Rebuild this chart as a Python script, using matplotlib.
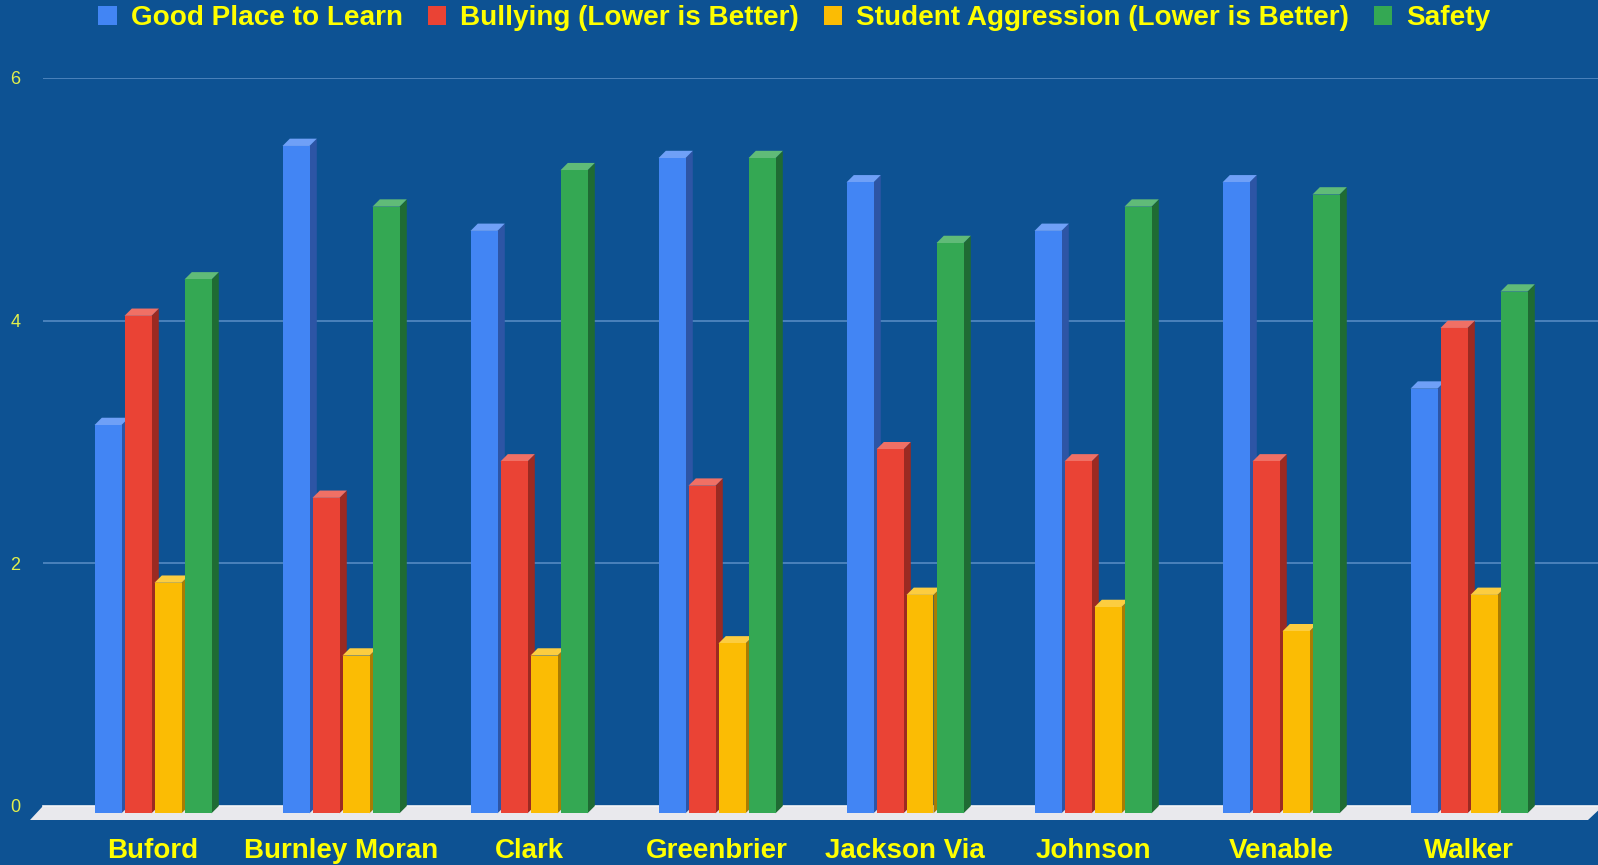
import numpy as np
import matplotlib
matplotlib.use('Agg')
import matplotlib.pyplot as plt
from matplotlib.patches import Polygon, Patch

# data
schools = ['Buford', 'Burnley Moran', 'Clark', 'Greenbrier', 'Jackson Via', 'Johnson', 'Venable', 'Walker']
good_place = [3.2, 5.5, 4.8, 5.4, 5.2, 4.8, 5.2, 3.5]
bullying = [4.1, 2.6, 2.9, 2.7, 3.0, 2.9, 2.9, 4.0]
aggression = [1.9, 1.3, 1.3, 1.4, 1.8, 1.7, 1.5, 1.8]
safety = [4.4, 5.0, 5.3, 5.4, 4.7, 5.0, 5.1, 4.3]
series_names = ['Good Place to Learn', 'Bullying (Lower is Better)',
                'Student Aggression (Lower is Better)', 'Safety']
yticks = [0, 2, 4, 6]

# front / side / top colours for the fake 3d bars
front = ['#4285f4', '#ea4335', '#fbbc04', '#34a853']
side = ['#2d55a5', '#9b2a22', '#a87c03', '#1f6b33']
top = ['#6fa0f7', '#f07065', '#fccd40', '#60bb78']

bg = '#0d5293'
yellow = '#ffff00'

W, H = 1598, 865
fig = plt.figure(figsize=(W / 100, H / 100), dpi=100, facecolor=bg)

# axes box in pixels: left 43, right edge of figure, value 0 at y=806, value 6 at y=78
ax = fig.add_axes([43 / W, (H - 806) / H, (W - 43) / W, (806 - 78) / H])
ax.set_facecolor(bg)
px_x = 188.0            # pixels per category
px_y = (806 - 78) / 6.0 # pixels per unit
xmin = -(153 - 43) / px_x
ax.set_xlim(xmin, xmin + (W - 43) / px_x)
ax.set_ylim(0, 6)
for s in ax.spines.values():
    s.set_visible(False)

# gridlines
for v in yticks[1:]:
    ax.axhline(v, color='#4f86bf', lw=1.3, zorder=1)

# floor slab
fd = 14 / px_y
fl = [(xmin - 13 / px_x, -fd), (xmin + 1545 / px_x, -fd),
      (xmin + 1560 / px_x, 0), (xmin, 0)]
ax.add_patch(Polygon(fl, closed=True, fc='#e9e9ed', ec='none', clip_on=False, zorder=2))
ax.plot([xmin, xmin + (W - 43) / px_x], [0, 0], color='#f4f4f6', lw=1.2,
        clip_on=False, zorder=2)

dx = 7.3 / px_x
dy = 7.3 / px_y
bw = 27 / px_x
pitch = 30 / px_x
series = [good_place, bullying, aggression, safety]

for i in range(len(schools)):
    for k in range(4):
        v = series[k][i]
        x0 = i + (-58.5 / px_x) + k * pitch
        x1 = x0 + bw
        fr = [(x0, -dy), (x1, -dy), (x1, v - dy), (x0, v - dy)]
        sd = [(x1, -dy), (x1 + dx, 0), (x1 + dx, v), (x1, v - dy)]
        tp = [(x0, v - dy), (x1, v - dy), (x1 + dx, v), (x0 + dx, v)]
        z = 3 + i * 0.1 + k * 0.01
        ax.add_patch(Polygon(sd, closed=True, fc=side[k], ec='none', clip_on=False, zorder=z))
        ax.add_patch(Polygon(tp, closed=True, fc=top[k], ec='none', clip_on=False, zorder=z))
        ax.add_patch(Polygon(fr, closed=True, fc=front[k], ec='none', clip_on=False, zorder=z))

# ticks
ax.set_xticks(range(len(schools)))
ax.set_xticklabels(schools, fontsize=20, fontweight='bold', color=yellow,
                   family=['Liberation Sans', 'DejaVu Sans'])
ax.set_yticks(yticks)
ax.set_yticklabels([str(t) for t in yticks], fontsize=13, color='#e2ef4c',
                   family=['Liberation Sans', 'DejaVu Sans'], ha='center')
ax.tick_params(axis='x', length=0, pad=23)
ax.tick_params(axis='y', length=0, pad=20)

# legend
handles = [Patch(fc=front[k], ec='none') for k in range(4)]
leg = fig.legend(handles, series_names, loc='center', bbox_to_anchor=(0.497, 1 - 18 / H),
                 ncol=4, frameon=False, handlelength=0.65, handleheight=0.65,
                 handletextpad=0.5, columnspacing=0.9,
                 prop={'family': ['Liberation Sans', 'DejaVu Sans'], 'weight': 'bold', 'size': 20.1})
for t in leg.get_texts():
    t.set_color(yellow)

fig.savefig('out.png', dpi=100, facecolor=bg)
